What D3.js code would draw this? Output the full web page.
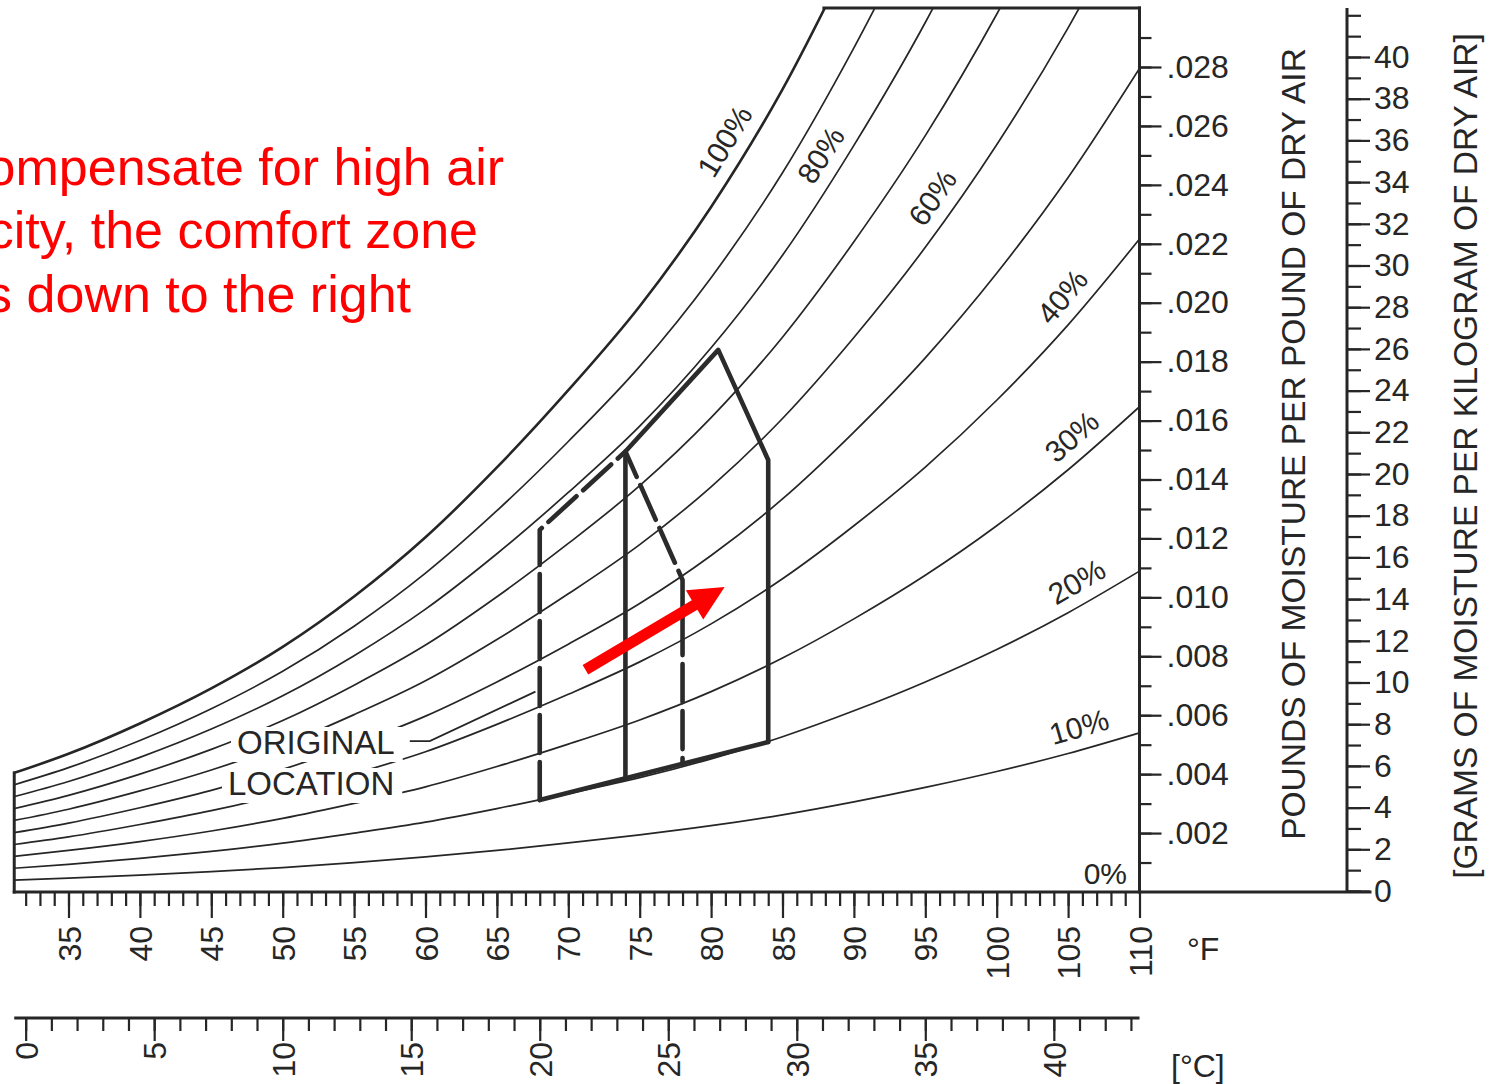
<!DOCTYPE html>
<html>
<head>
<meta charset="utf-8">
<title>Psychrometric chart – comfort zone shift</title>
<script src="https://cdn.jsdelivr.net/npm/d3@7/dist/d3.min.js"></script>
<style>
  html, body { margin: 0; padding: 0; background: #fff; overflow: hidden; }
  svg { display: block; font-family: "Liberation Sans", Arial, Helvetica, sans-serif; }
</style>
</head>
<body>
<svg id="chart" width="1490" height="1084"></svg>
<script>
// ---------------- data ----------------
// Dry-bulb temperatures (°F) at which every relative-humidity curve is sampled
const temps = [31, 35, 40, 45, 50, 55, 60, 65, 70, 75, 80, 85, 90, 95, 100, 105, 110];

// Humidity ratio (lb moisture / lb dry air) along each relative-humidity curve
const rh10  = [0.00040,0.00047,0.00057,0.00069,0.00083,0.00100,0.00119,0.00141,0.00167,0.00194,0.00225,0.00262,0.00306,0.00355,0.00409,0.00470,0.00540];
const rh20  = [0.00080,0.00094,0.00114,0.00138,0.00166,0.00200,0.00237,0.00283,0.00334,0.00388,0.00452,0.00527,0.00615,0.00713,0.00823,0.00948,0.01089];
const rh30  = [0.00120,0.00141,0.00171,0.00207,0.00250,0.00301,0.00357,0.00426,0.00502,0.00584,0.00680,0.00794,0.00927,0.01075,0.01243,0.01433,0.01647];
const rh40  = [0.00160,0.00187,0.00229,0.00276,0.00333,0.00401,0.00476,0.00569,0.00671,0.00781,0.00910,0.01063,0.01243,0.01442,0.01669,0.01925,0.02216];
const rh50  = [0.00200,0.00234,0.00286,0.00345,0.00416,0.00501,0.00597,0.00713,0.00841,0.00979,0.01142,0.01334,0.01561,0.01813,0.02100,0.02425,0.02795];
const rh60  = [0.00241,0.00281,0.00343,0.00414,0.00499,0.00602,0.00717,0.00857,0.01012,0.01179,0.01375,0.01607,0.01882,0.02188,0.02536,0.02933,0.03385];
const rh70  = [0.00281,0.00328,0.00400,0.00484,0.00582,0.00702,0.00838,0.01002,0.01183,0.01379,0.01610,0.01883,0.02207,0.02567,0.02979,0.03449];
const rh80  = [0.00321,0.00375,0.00457,0.00553,0.00666,0.00802,0.00960,0.01148,0.01356,0.01581,0.01847,0.02161,0.02534,0.02951,0.03428];
const rh90  = [0.00361,0.00422,0.00514,0.00622,0.00749,0.00902,0.01082,0.01294,0.01529,0.01784,0.02085,0.02441,0.02865,0.03339];
const rh100 = [0.00401,0.00469,0.00572,0.00691,0.00832,0.01003,0.01204,0.01441,0.01703,0.01988,0.02325,0.02724,0.03200];

const rhLevels = [10, 20, 30, 40, 50, 60, 70, 80, 90, 100];
const rhSeries = [rh10, rh20, rh30, rh40, rh50, rh60, rh70, rh80, rh90, rh100];
// curves that carry a percentage label
const labelledRh = [100, 80, 60, 40, 30, 20, 10];

// Axis ticks
const fTicks  = d3.range(35, 111, 5);                          // °F, labelled
const cTicks  = d3.range(0, 41, 5);                            // °C, labelled
const lbTicks = d3.range(2, 29, 2).map(v => v / 1000);         // lb/lb, labelled
const gTicks  = d3.range(0, 41, 2);                            // g/kg, labelled

// Comfort zones: [°F, humidity ratio]
const originalZone = [[68, 0.00312], [68, 0.01229], [74, 0.01495], [78, 0.01059], [78, 0.00434]];
const shiftedZone  = [[74, 0.00386], [74, 0.01495], [80.5, 0.01840], [84, 0.01466], [84, 0.00509]];
// Direction of the shift: tail and tip, [°F, humidity ratio]
const shiftArrow = [[71.2, 0.00754], [80.95, 0.01035]];
// Leader from the "ORIGINAL LOCATION" note to the original zone
const originalLeader = [[58.9, 0.00512], [60.3, 0.00512], [67.7, 0.00680]];

const noteLines = ["To compensate for high air", "velocity, the comfort zone", "goes down to the right"];

// ---------------- layout ----------------
const svg = d3.select("#chart");
const ink = "#262626";

const x  = d3.scaleLinear().domain([35, 110]).range([68.5, 1139.5]);      // °F
const y  = d3.scaleLinear().domain([0, 0.028]).range([892, 67]);          // lb/lb
const xc = d3.scaleLinear().domain([0, 40]).range([x(32), x(104)]);       // °C
const yg = d3.scaleLinear().domain([0, 40]).range([891, 57]);             // g/kg

const tLeft = 31.2;      // left edge of the chart field
const wTop  = 0.0300;    // top edge of the chart field

svg.append("rect").attr("width", 1490).attr("height", 1084).attr("fill", "#fff");

svg.append("defs").append("clipPath").attr("id", "field")
  .append("rect")
  .attr("x", x(tLeft)).attr("y", y(wTop))
  .attr("width", x(110) - x(tLeft)).attr("height", y(0) - y(wTop));

// linear lookup along a curve
function wAt(series, t) {
  for (let i = 0; i < series.length - 1; i++) {
    if (t >= temps[i] && t <= temps[i + 1]) {
      const f = (t - temps[i]) / (temps[i + 1] - temps[i]);
      return series[i] + f * (series[i + 1] - series[i]);
    }
  }
  return series[series.length - 1];
}
function tAtW(series, w) {
  for (let i = 0; i < series.length - 1; i++) {
    if (w >= series[i] && w <= series[i + 1]) {
      return temps[i] + (w - series[i]) / (series[i + 1] - series[i]) * (temps[i + 1] - temps[i]);
    }
  }
  return temps[series.length - 1];
}

// ---------------- relative humidity curves ----------------
const curve = d3.line().x(d => x(d[0])).y(d => y(d[1])).curve(d3.curveMonotoneX);
const field = svg.append("g").attr("clip-path", "url(#field)");
rhSeries.forEach((s, i) => {
  field.append("path")
    .attr("d", curve(s.map((v, j) => [temps[j], v])))
    .attr("fill", "none")
    .attr("stroke", ink)
    .attr("stroke-width", rhLevels[i] === 100 ? 2.6 : 1.7);
});

// ---------------- chart frame ----------------
const frame = svg.append("g").attr("stroke", ink).attr("fill", "none").attr("stroke-linecap", "square");
frame.append("line").attr("x1", x(tLeft)).attr("x2", x(tLeft))
  .attr("y1", y(wAt(rh100, tLeft))).attr("y2", y(0)).attr("stroke-width", 3);
frame.append("line").attr("x1", x(tAtW(rh100, wTop))).attr("x2", x(110))
  .attr("y1", y(wTop)).attr("y2", y(wTop)).attr("stroke-width", 3);
frame.append("line").attr("x1", x(110)).attr("x2", x(110))
  .attr("y1", y(wTop)).attr("y2", y(0)).attr("stroke-width", 3);
frame.append("line").attr("x1", x(tLeft)).attr("x2", 1370)
  .attr("y1", y(0)).attr("y2", y(0)).attr("stroke-width", 3);

// ---------------- °F axis ----------------
function styleAxis(g, size) {
  g.attr("font-family", null).attr("font-size", size).attr("color", ink);
  g.select(".domain").remove();
  g.selectAll(".tick line").attr("stroke-width", 2.2);
}
const fMinor = svg.append("g").attr("transform", `translate(0,${y(0)})`)
  .call(d3.axisBottom(x).tickValues(d3.range(32, 110)).tickSize(14).tickFormat(""));
styleAxis(fMinor, 32);
const fMajor = svg.append("g").attr("transform", `translate(0,${y(0)})`)
  .call(d3.axisBottom(x).tickValues(fTicks).tickSize(26));
styleAxis(fMajor, 32);
fMajor.selectAll(".tick text")
  .attr("transform", "rotate(-90)").attr("text-anchor", "end")
  .attr("x", -34).attr("y", 0).attr("dy", "0.36em");
svg.append("text").attr("x", 1187).attr("y", 960).attr("font-size", 32).attr("fill", ink).text("°F");

// ---------------- °C axis ----------------
const cY = 1018;
svg.append("line").attr("x1", x(tLeft)).attr("x2", x(110)).attr("y1", cY).attr("y2", cY)
  .attr("stroke", ink).attr("stroke-width", 3);
const cMinor = svg.append("g").attr("transform", `translate(0,${cY})`)
  .call(d3.axisBottom(xc).tickValues(d3.range(0, 44)).tickSize(13).tickFormat(""));
styleAxis(cMinor, 32);
const cMajor = svg.append("g").attr("transform", `translate(0,${cY})`)
  .call(d3.axisBottom(xc).tickValues(cTicks).tickSize(23));
styleAxis(cMajor, 32);
cMajor.selectAll(".tick text")
  .attr("transform", "rotate(-90)").attr("text-anchor", "end")
  .attr("x", -24).attr("y", 0).attr("dy", "0.36em");
svg.append("text").attr("x", 1171).attr("y", 1077).attr("font-size", 32).attr("fill", ink).text("[°C]");

// ---------------- lb/lb axis ----------------
const pMinor = svg.append("g").attr("transform", `translate(${x(110)},0)`)
  .call(d3.axisRight(y).tickValues(d3.range(1, 30).map(v => v / 1000)).tickSize(12).tickFormat(""));
styleAxis(pMinor, 32);
const pMajor = svg.append("g").attr("transform", `translate(${x(110)},0)`)
  .call(d3.axisRight(y).tickValues(lbTicks).tickSize(22).tickPadding(5)
    .tickFormat(d => d3.format(".3f")(d).slice(1)));
styleAxis(pMajor, 32);

svg.append("text")
  .attr("transform", "translate(1293,444) rotate(-90)")
  .attr("text-anchor", "middle").attr("dy", "0.36em")
  .attr("font-size", 33.5).attr("fill", ink)
  .text("POUNDS OF MOISTURE PER POUND OF DRY AIR");

// ---------------- g/kg axis ----------------
const gX = 1347;
svg.append("line").attr("x1", gX).attr("x2", gX).attr("y1", y(0)).attr("y2", 8)
  .attr("stroke", ink).attr("stroke-width", 3);
const gMinor = svg.append("g").attr("transform", `translate(${gX},0)`)
  .call(d3.axisRight(yg).tickValues(d3.range(0, 43)).tickSize(14).tickFormat(""));
styleAxis(gMinor, 32);
const gMajor = svg.append("g").attr("transform", `translate(${gX},0)`)
  .call(d3.axisRight(yg).tickValues(gTicks).tickSize(23).tickPadding(4));
styleAxis(gMajor, 32);

svg.append("text")
  .attr("transform", "translate(1465,456) rotate(-90)")
  .attr("text-anchor", "middle").attr("dy", "0.36em")
  .attr("font-size", 33.5).attr("fill", ink)
  .text("[GRAMS OF MOISTURE PER KILOGRAM OF DRY AIR]");

// ---------------- curve labels ----------------
const labelTemp = {100: 82.3, 80: 89.0, 60: 96.8, 40: 105.8, 30: 106.3, 20: 106.4, 10: 106.2};
labelledRh.forEach(rh => {
  const s = rhSeries[rhLevels.indexOf(rh)];
  const t = labelTemp[rh];
  const px = x(t), py = y(wAt(s, t));
  const ang = Math.atan2(y(wAt(s, t + 1)) - y(wAt(s, t - 1)), x(t + 1) - x(t - 1)) * 180 / Math.PI;
  svg.append("text")
    .attr("transform", `translate(${px},${py}) rotate(${ang})`)
    .attr("text-anchor", "middle").attr("dy", "-0.4em")
    .attr("font-size", 30).attr("fill", ink)
    .text(rh + "%");
});
svg.append("text").attr("x", 1127).attr("y", y(0) - 8).attr("text-anchor", "end")
  .attr("font-size", 30).attr("fill", ink).text("0%");

// ---------------- "ORIGINAL LOCATION" note ----------------
const note = svg.append("g");
[["ORIGINAL", 237, 754], ["LOCATION", 228, 795]].forEach(([txt, tx, ty]) => {
  const grp = note.append("g");
  const t = grp.append("text").attr("x", tx).attr("y", ty)
    .attr("font-size", 33).attr("fill", ink).text(txt);
  const b = t.node().getBBox();
  grp.insert("rect", "text")
    .attr("x", b.x - 6).attr("y", b.y + 3).attr("width", b.width + 14).attr("height", b.height - 2)
    .attr("fill", "#fff");
});
note.append("path")
  .attr("d", d3.line().x(d => x(d[0])).y(d => y(d[1]))(originalLeader))
  .attr("fill", "none").attr("stroke", ink).attr("stroke-width", 1.8);

// ---------------- comfort zones ----------------
const zl = d3.line().x(d => x(d[0])).y(d => y(d[1]));
const zones = svg.append("g").attr("fill", "none").attr("stroke", "#2b2b2b")
  .attr("stroke-width", 4.6).attr("stroke-linejoin", "round").attr("stroke-linecap", "round");
// original boundary (dashed), without its base
zones.append("path")
  .attr("d", zl(originalZone))
  .attr("stroke-dasharray", "38,9");
// shared base line along the bottom of both zones
zones.append("path").attr("d", zl([originalZone[0], shiftedZone[shiftedZone.length - 1]]));
// shifted zone (solid)
zones.append("path").attr("d", zl(shiftedZone));

// ---------------- arrow ----------------
(function drawArrow() {
  const [a, b] = shiftArrow.map(d => [x(d[0]), y(d[1])]);
  const dx = b[0] - a[0], dy = b[1] - a[1], len = Math.hypot(dx, dy);
  const ux = dx / len, uy = dy / len, nx = -uy, ny = ux;
  const headL = 35, headW = 17, shaftW = 5.5;
  const bx = b[0] - ux * headL, by = b[1] - uy * headL;
  const pts = [
    [a[0] + nx * shaftW, a[1] + ny * shaftW],
    [bx + nx * shaftW, by + ny * shaftW],
    [bx + nx * headW, by + ny * headW],
    b,
    [bx - nx * headW, by - ny * headW],
    [bx - nx * shaftW, by - ny * shaftW],
    [a[0] - nx * shaftW, a[1] - ny * shaftW]
  ];
  svg.append("path").attr("d", "M" + pts.map(p => p.join(",")).join("L") + "Z").attr("fill", "#ff0000");
})();

// ---------------- red annotation ----------------
const noteEnds = [504, 478, 411];
const noteBase = [185, 248, 312];
noteLines.forEach((line, i) => {
  svg.append("text").attr("x", noteEnds[i]).attr("y", noteBase[i])
    .attr("text-anchor", "end").attr("font-size", 52).attr("fill", "#ff0000")
    .text(line);
});
</script>
</body>
</html>
